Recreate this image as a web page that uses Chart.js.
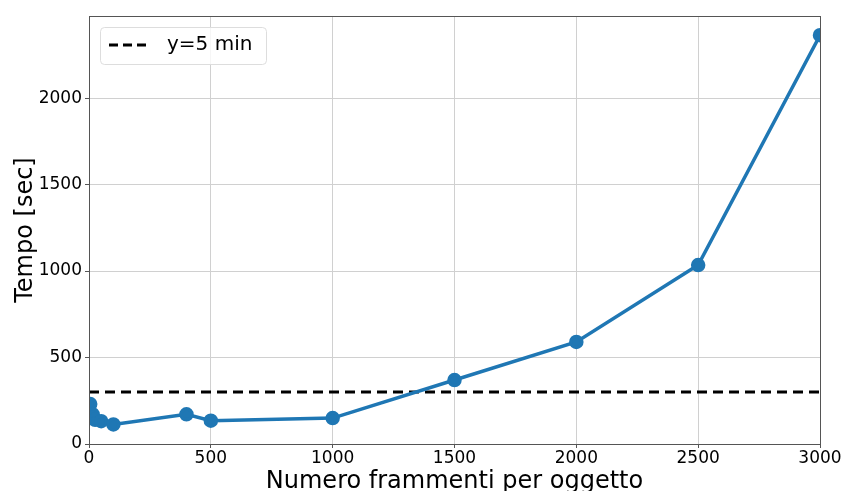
<!DOCTYPE html>
<html>
<head>
<meta charset="utf-8">
<script src="https://cdn.jsdelivr.net/npm/chart.js@4.4.1/dist/chart.umd.min.js"></script>
<style>
  html, body { margin: 0; padding: 0; background: #fff; }
  #wrap { width: 843px; height: 491px; }
</style>
</head>
<body>
<div id="wrap"><canvas id="chart" width="843" height="491"></canvas></div>
<script>
// frammenti per oggetto vs tempo
const frammenti = [5, 15, 25, 50, 100, 400, 500, 1000, 1500, 2000, 2500, 3000];
const tempo = [231, 172, 140, 132, 113, 172, 135, 150, 370, 590, 1035, 2364];
const soglia = 300; // 5 min
const xTicks = [0, 500, 1000, 1500, 2000, 2500, 3000];
const yTicks = [0, 500, 1000, 1500, 2000];

const FONT = "'DejaVu Sans', sans-serif";

// plot frame + legend box drawn on top
const framePlugin = {
  id: "frame",
  afterDraw(chart) {
    const { ctx, chartArea: a } = chart;
    ctx.save();
    ctx.strokeStyle = "#555";
    ctx.lineWidth = 1;
    ctx.strokeRect(a.left + 0.5, a.top + 0.5, a.right - a.left, a.bottom - a.top);

    // legend
    const bx = 100.5, by = 27.5, bw = 166, bh = 37;
    ctx.fillStyle = "rgba(255,255,255,0.8)";
    ctx.strokeStyle = "#ddd";
    ctx.beginPath();
    ctx.roundRect(bx, by, bw, bh, 4);
    ctx.fill();
    ctx.stroke();
    ctx.strokeStyle = "#000";
    ctx.lineWidth = 3;
    ctx.setLineDash([9, 5]);
    ctx.beginPath();
    ctx.moveTo(109, 45);
    ctx.lineTo(150, 45);
    ctx.stroke();
    ctx.setLineDash([]);
    ctx.fillStyle = "#000";
    ctx.font = "20px " + FONT;
    ctx.textBaseline = "middle";
    ctx.fillText(chart.data.datasets[1].label, 167, 45);
    ctx.restore();
  }
};

new Chart(document.getElementById("chart"), {
  type: "scatter",
  data: {
    datasets: [
      {
        label: "tempo",
        data: frammenti.map((x, i) => ({ x: x, y: tempo[i] })),
        showLine: true,
        borderColor: "#1f77b4",
        backgroundColor: "#1f77b4",
        borderWidth: 3.5,
        pointRadius: 5.5,
        pointHoverRadius: 5.5,
      },
      {
        label: "y=5 min",
        data: [{ x: xTicks[0], y: soglia }, { x: xTicks[xTicks.length - 1], y: soglia }],
        showLine: true,
        borderColor: "#000",
        borderWidth: 3,
        borderDash: [10, 6],
        pointRadius: 0,
      },
    ],
  },
  options: {
    responsive: false,
    animation: false,
    layout: { padding: { top: 16, right: 23, left: 0, bottom: 0 } },
    plugins: { legend: { display: false }, tooltip: { enabled: false } },
    scales: {
      x: {
        type: "linear",
        min: 0,
        max: 3000,
        afterBuildTicks: (s) => { s.ticks = xTicks.map((v) => ({ value: v })); },
        afterFit: (s) => { s.height = 47; },
        grid: { color: "#d0d0d0", tickLength: 4, tickColor: "#555" },
        border: { color: "#555" },
        ticks: { color: "#000", font: { family: FONT, size: 17 }, padding: 0, maxRotation: 0, callback: (v) => String(v) },
        title: { display: true, text: "Numero frammenti per oggetto", color: "#000", font: { family: FONT, size: 24 }, padding: { top: 0, bottom: -5 } },
      },
      y: {
        type: "linear",
        min: 0,
        max: 2475,
        afterBuildTicks: (s) => { s.ticks = yTicks.map((v) => ({ value: v })); },
        afterFit: (s) => { s.width = 89; },
        grid: { color: "#d0d0d0", tickLength: 4, tickColor: "#555" },
        border: { color: "#555" },
        ticks: { color: "#000", font: { family: FONT, size: 17 }, padding: 3, callback: (v) => String(v) },
        title: { display: true, text: "Tempo [sec]", color: "#000", font: { family: FONT, size: 24 }, padding: { top: 11, bottom: 0 } },
      },
    },
  },
  plugins: [framePlugin],
});
</script>
</body>
</html>
